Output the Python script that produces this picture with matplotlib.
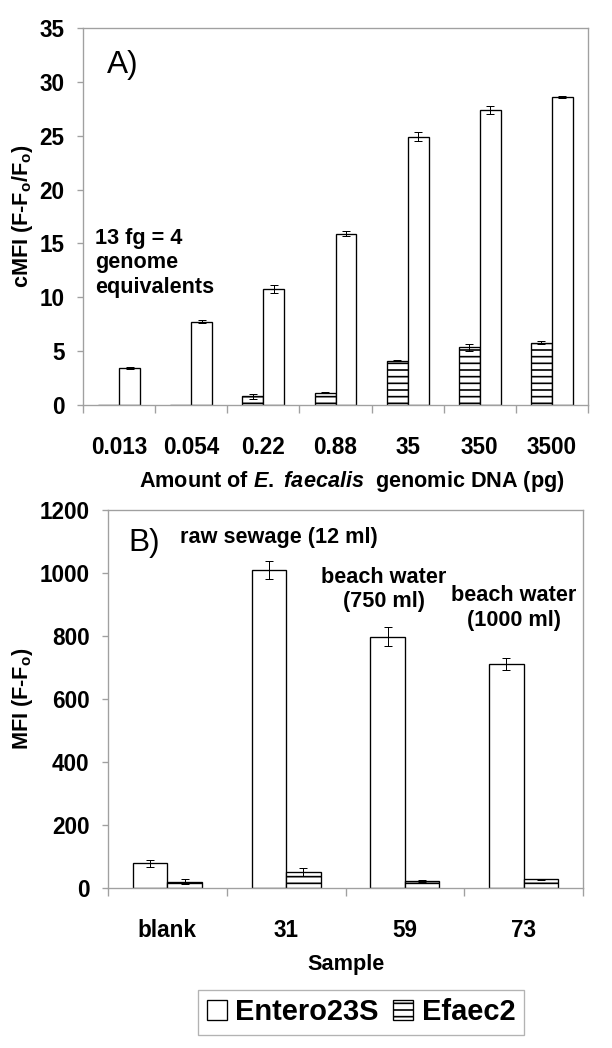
import matplotlib
matplotlib.use('Agg')
import numpy as np
import matplotlib.pyplot as plt
from matplotlib.ticker import FixedLocator

plt.rcParams['font.family'] = ['Liberation Sans', 'DejaVu Sans']
plt.rcParams['mathtext.fontset'] = 'custom'
plt.rcParams['mathtext.rm'] = 'Liberation Sans:bold'
plt.rcParams['mathtext.bf'] = 'Liberation Sans:bold'
plt.rcParams['mathtext.it'] = 'Liberation Sans:italic:bold'
plt.rcParams['hatch.linewidth'] = 1.0

# panel A: amount of genomic DNA
dna_labels = ['0.013', '0.054', '0.22', '0.88', '35', '350', '3500']
entero_a = [3.45, 7.75, 10.75, 15.9, 24.9, 27.4, 28.6]
entero_a_err = [0.1, 0.15, 0.35, 0.25, 0.4, 0.4, 0.1]
efaec_a = [0, 0.02, 0.8, 1.15, 4.1, 5.35, 5.8]
efaec_a_err = [0, 0, 0.2, 0.05, 0.05, 0.3, 0.15]

# panel B: environmental samples
sample_labels = ['blank', '31', '59', '73']
entero_b = [78, 1010, 798, 710]
entero_b_err = [10, 28, 30, 19]
efaec_b = [20, 50, 22, 27]
efaec_b_err = [8, 13, 3, 3]

W, H, DPI = 612, 1048, 120
fig = plt.figure(figsize=(W / DPI, H / DPI), dpi=DPI)

def px_axes(x0, x1, ytop, ybot):
    return fig.add_axes([x0 / W, 1 - ybot / H, (x1 - x0) / W, (ybot - ytop) / H])

axA = px_axes(83, 588, 28, 405)
axB = px_axes(108, 583, 510, 888)

bw = 0.29
FS = 13
TFS = 13.5
grey = '#a0a0a0'
bar_kw = dict(edgecolor='black', linewidth=0.8, facecolor='white',
              error_kw=dict(elinewidth=0.6, capthick=0.6, ecolor='black'),
              capsize=2.5)

def style(ax, labels, ymax, ystep):
    n = len(labels)
    ax.set_xlim(-0.5, n - 0.5)
    ax.set_ylim(0, ymax)
    ax.set_yticks(np.arange(0, ymax + 1e-9, ystep))
    ax.set_xticks(range(n))
    ax.set_xticklabels(labels, fontsize=TFS, fontweight='bold')
    ax.xaxis.set_minor_locator(FixedLocator(np.arange(-0.5, n, 1.0)))
    ax.tick_params(axis='x', which='major', length=0, pad=18.5)
    ax.tick_params(axis='x', which='minor', length=5, width=0.8, color=grey, direction='out')
    ax.tick_params(axis='y', length=3.6, width=0.8, color=grey, pad=7.5, labelsize=TFS)
    for t in ax.get_yticklabels():
        t.set_fontweight('bold')
    for s in ax.spines.values():
        s.set_color(grey)
        s.set_linewidth(0.8)

xa = np.arange(len(dna_labels))
axA.bar(xa - bw / 2, efaec_a, bw, yerr=efaec_a_err, hatch='---', **bar_kw)
axA.bar(xa + bw / 2, entero_a, bw, yerr=entero_a_err, **bar_kw)
style(axA, dna_labels, 35, 5)
axA.set_ylabel('cMFI (F-F$_\\mathrm{o}$/F$_\\mathrm{o}$)', fontsize=FS, fontweight='bold')
axA.yaxis.set_label_coords(-0.119, 0.5)
axA.yaxis.label.set_va('center')
axA.set_xlabel('Amount of $\\mathit{E.\\ faecalis}$  genomic DNA (pg)', fontsize=FS, fontweight='bold')
axA.xaxis.set_label_coords(0.533, -0.204)
axA.xaxis.label.set_va('center')
axA.text(0.0475, 0.902, 'A)', transform=axA.transAxes, fontsize=19, va='center', ha='left')
axA.text(0.024, 0.377, '13 fg = 4\ngenome\nequivalents', transform=axA.transAxes,
         fontsize=FS, fontweight='bold', va='center', ha='left', linespacing=1.2)

xb = np.arange(len(sample_labels))
axB.bar(xb - bw / 2, entero_b, bw, yerr=entero_b_err, **bar_kw)
axB.bar(xb + bw / 2, efaec_b, bw, yerr=efaec_b_err, hatch='---', **bar_kw)
style(axB, sample_labels, 1200, 200)
axB.set_ylabel('MFI (F-F$_\\mathrm{o}$)', fontsize=FS, fontweight='bold')
axB.yaxis.set_label_coords(-0.179, 0.5)
axB.yaxis.label.set_va('center')
axB.set_xlabel('Sample', fontsize=FS, fontweight='bold')
axB.xaxis.set_label_coords(0.5, -0.2037)
axB.xaxis.label.set_va('center')
axB.text(0.042, 0.913, 'B)', transform=axB.transAxes, fontsize=19, va='center', ha='left')
axB.text(0.36, 0.926, 'raw sewage (12 ml)', transform=axB.transAxes,
         fontsize=FS, fontweight='bold', va='center', ha='center')
axB.text(0.581, 0.79, 'beach water\n(750 ml)', transform=axB.transAxes,
         fontsize=FS, fontweight='bold', va='center', ha='center', linespacing=1.2)
axB.text(0.855, 0.741, 'beach water\n(1000 ml)', transform=axB.transAxes,
         fontsize=FS, fontweight='bold', va='center', ha='center', linespacing=1.2)

h1 = plt.Rectangle((0, 0), 1, 1, facecolor='white', edgecolor='black', linewidth=0.8)
h2 = plt.Rectangle((0, 0), 1, 1, facecolor='white', edgecolor='black', linewidth=0.8, hatch='---')
leg = fig.legend([h1, h2], ['Entero23S', 'Efaec2'], loc='center',
                 bbox_to_anchor=(361 / W, 1 - 1012.5 / H), ncol=2,
                 prop=dict(size=17.4, weight='bold'), frameon=True, fancybox=False,
                 handlelength=0.69, handleheight=0.69, handletextpad=0.3,
                 columnspacing=0.48, borderpad=0.3, borderaxespad=0)
leg.get_frame().set_edgecolor(grey)
leg.get_frame().set_linewidth(0.8)

fig.savefig('out.png', dpi=DPI)
